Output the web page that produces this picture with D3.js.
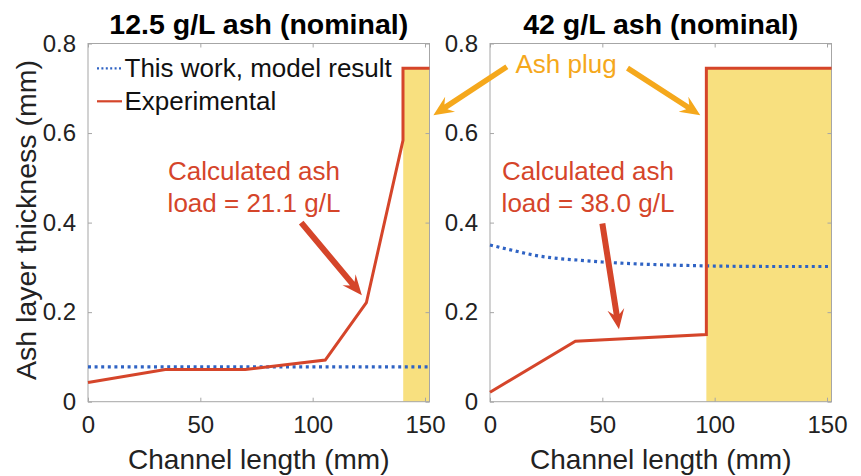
<!DOCTYPE html>
<html>
<head>
<meta charset="utf-8">
<script src="https://cdn.jsdelivr.net/npm/d3@7/dist/d3.min.js"></script>
<style>
  body { margin: 0; background: #fff; }
  text { font-family: "Liberation Sans", Arial, sans-serif; }
</style>
</head>
<body>
<svg id="chart" width="861" height="476"></svg>
<script>
// ---- data ----
const xTicks = [0, 50, 100, 150];
const yTicks = [0, 0.2, 0.4, 0.6, 0.8];
const titles = ["12.5 g/L ash (nominal)", "42 g/L ash (nominal)"];
const notes = [["Calculated ash", "load = 21.1 g/L"], ["Calculated ash", "load = 38.0 g/L"]];

// experimental ash layer (channel length mm, thickness mm)
const expLeft  = [[0, 0.043], [34.4, 0.072], [70, 0.072], [105.6, 0.093], [123.9, 0.221], [140.2, 0.584], [140.2, 0.745], [152, 0.745]];
const expRight = [[0, 0.021], [38, 0.135], [96.3, 0.150], [96.3, 0.745], [152, 0.745]];
// model result
const modelLeft  = [[0, 0.078], [152, 0.078]];
const modelRight = [[0, 0.350], [10, 0.338], [20, 0.327], [30, 0.320], [40, 0.316], [50, 0.312], [60, 0.309], [75, 0.306], [90, 0.304], [100, 0.303], [125, 0.302], [152, 0.302]];
// ash plug region [start, end, height]
const plugLeft  = [140.3, 152, 0.745];
const plugRight = [96.3, 152, 0.745];
// red callout arrows [x0, y0, x1, y1] in data units
const calloutLeft  = [94.9, 0.40, 121.9, 0.238];
const calloutRight = [50, 0.398, 57.4, 0.162];
// "Ash plug" arrows in right-panel data units
const plugArrows = [[7.5, 0.748, -25.2, 0.640], [61.2, 0.745, 93.6, 0.640]];

const RED = "#d5452a", BLUE = "#2f63c4", YELLOW = "#f8e07f", ORANGE = "#f5a81c", AXIS = "#a6a6a6", INK = "#222";

const svg = d3.select("#chart");
const plotTop = 43.5, plotBottom = 401.7;
const panels = [
  {left: 88, right: 429.5, exp: expLeft, model: modelLeft, plug: plugLeft, callout: calloutLeft, title: titles[0], note: notes[0], noteX: 254},
  {left: 490, right: 831.5, exp: expRight, model: modelRight, plug: plugRight, callout: calloutRight, title: titles[1], note: notes[1], noteX: 588}
];

function arrow(g, x1, y1, x2, y2, w, L, W, color) {
  const dx = x2 - x1, dy = y2 - y1, len = Math.hypot(dx, dy);
  const ux = dx / len, uy = dy / len, px = -uy, py = ux;
  const bx = x2 - L * ux, by = y2 - L * uy;
  const nx = x2 - 0.75 * L * ux, ny = y2 - 0.75 * L * uy;
  const pts = [
    [x1 + px * w / 2, y1 + py * w / 2],
    [nx + px * w / 2, ny + py * w / 2],
    [bx + px * W / 2, by + py * W / 2],
    [x2, y2],
    [bx - px * W / 2, by - py * W / 2],
    [nx - px * w / 2, ny - py * w / 2],
    [x1 - px * w / 2, y1 - py * w / 2]
  ];
  g.append("polygon").attr("points", pts.map(p => p.join(",")).join(" ")).attr("fill", color);
}

panels.forEach((p, i) => {
  const x = d3.scaleLinear().domain([0, 152]).range([p.left, p.right]);
  const y = d3.scaleLinear().domain([0, 0.8]).range([plotBottom, plotTop]);
  p.x = x; p.y = y;
  const g = svg.append("g");

  // ash plug
  g.append("rect")
    .attr("x", x(p.plug[0])).attr("y", y(p.plug[2]))
    .attr("width", x(p.plug[1]) - x(p.plug[0])).attr("height", y(0) - y(p.plug[2]))
    .attr("fill", YELLOW);

  // axes box + inward ticks
  g.append("rect").attr("x", p.left).attr("y", plotTop)
    .attr("width", p.right - p.left).attr("height", plotBottom - plotTop)
    .attr("fill", "none").attr("stroke", AXIS).attr("stroke-width", 1);

  const xb = g.append("g").attr("transform", `translate(0,${plotBottom})`)
    .call(d3.axisBottom(x).tickValues(xTicks).tickSizeInner(-4).tickSizeOuter(0).tickPadding(9));
  const xt = g.append("g").attr("transform", `translate(0,${plotTop})`)
    .call(d3.axisTop(x).tickValues(xTicks).tickSizeInner(-4).tickSizeOuter(0).tickFormat(""));
  const yl = g.append("g").attr("transform", `translate(${p.left},0)`)
    .call(d3.axisLeft(y).tickValues(yTicks).tickSizeInner(-4).tickSizeOuter(0).tickPadding(12).tickFormat(d => String(d)));
  const yr = g.append("g").attr("transform", `translate(${p.right},0)`)
    .call(d3.axisRight(y).tickValues(yTicks).tickSizeInner(-4).tickSizeOuter(0).tickFormat(""));
  [xb, xt, yl, yr].forEach(a => {
    a.select(".domain").remove();
    a.selectAll(".tick line").attr("stroke", AXIS);
    a.selectAll("text").attr("fill", INK).style("font-size", "24px")
      .style("font-family", '"Liberation Sans", Arial, sans-serif');
  });
  xb.selectAll("text").attr("dy", "0.71em").attr("y", 14);

  const line = d3.line().x(d => x(d[0])).y(d => y(d[1]));

  // model (dotted)
  g.append("path").datum(p.model).attr("d", line.curve(d3.curveMonotoneX))
    .attr("fill", "none").attr("stroke", BLUE).attr("stroke-width", 3.2)
    .attr("stroke-dasharray", "3,3.6");
  line.curve(d3.curveLinear);
  // experimental
  g.append("path").datum(p.exp).attr("d", line)
    .attr("fill", "none").attr("stroke", RED).attr("stroke-width", 3)
    .attr("stroke-linejoin", "miter");

  // title
  g.append("text").attr("x", (p.left + p.right) / 2).attr("y", 33.5)
    .attr("text-anchor", "middle").style("font-size", "28.5px").style("font-weight", "bold")
    .attr("fill", "#000").text(p.title);

  // x label
  g.append("text").attr("x", (p.left + p.right) / 2).attr("y", 468.5)
    .attr("text-anchor", "middle").style("font-size", "28px").attr("fill", INK)
    .text("Channel length (mm)");

  // callout text + arrow
  p.note.forEach((t, k) => {
    g.append("text").attr("x", p.noteX).attr("y", 180 + k * 32)
      .attr("text-anchor", "middle").style("font-size", "26px").attr("fill", RED).text(t);
  });
  const c = p.callout;
  arrow(g, x(c[0]), y(c[1]), x(c[2]), y(c[3]), 6, 20, 17, RED);
});

// y label
svg.append("text").attr("transform", `translate(36,220) rotate(-90)`)
  .attr("text-anchor", "middle").style("font-size", "28.5px").attr("fill", INK)
  .text("Ash layer thickness (mm)");

// legend (left panel)
const lg = svg.append("g");
const legendItems = [
  {label: "This work, model result", color: BLUE, dash: "2,2.4", w: 2.2},
  {label: "Experimental", color: RED, dash: null, w: 2.2}
];
legendItems.forEach((d, k) => {
  const yy = 68.3 + k * 33;
  lg.append("line").attr("x1", 97).attr("x2", 122).attr("y1", yy).attr("y2", yy)
    .attr("stroke", d.color).attr("stroke-width", d.w).attr("stroke-dasharray", d.dash);
  lg.append("text").attr("x", 124.5).attr("y", yy + 8.6).style("font-size", "26px")
    .attr("fill", "#111").text(d.label);
});

// "Ash plug" annotation
const pr = panels[1];
svg.append("text").attr("x", 566).attr("y", 73).attr("text-anchor", "middle")
  .style("font-size", "26px").attr("fill", ORANGE).text("Ash plug");
plugArrows.forEach(a => {
  arrow(svg, pr.x(a[0]), pr.y(a[1]), pr.x(a[2]), pr.y(a[3]), 5.5, 20, 18, ORANGE);
});
</script>
</body>
</html>
